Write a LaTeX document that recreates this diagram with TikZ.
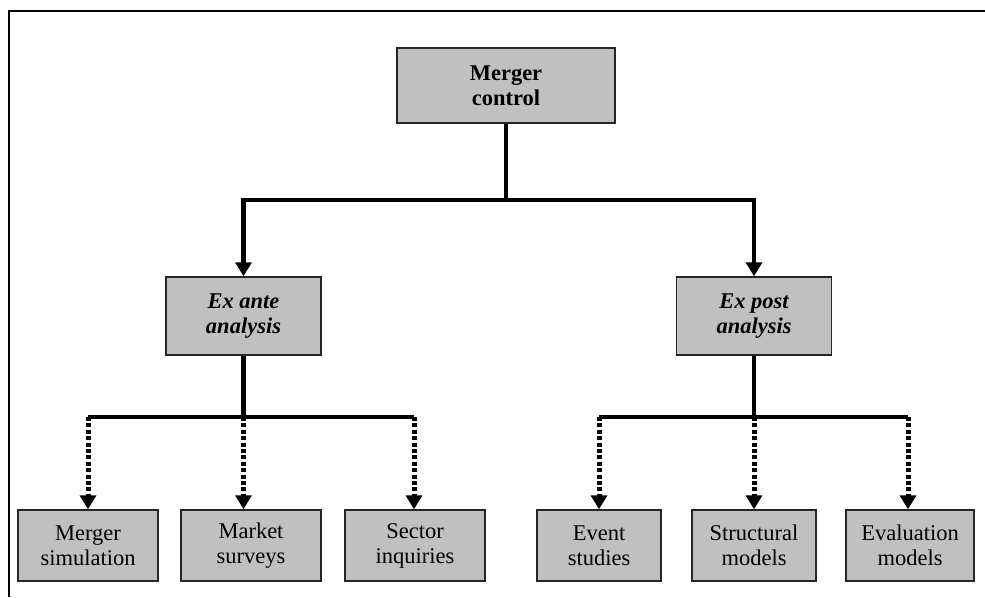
\documentclass[tikz,border=0pt]{standalone}
\usepackage{fontspec}
\setmainfont{Liberation Serif}
\usetikzlibrary{arrows.meta}
\definecolor{boxgray}{HTML}{C0C0C0}
\begin{document}
\begin{tikzpicture}[x=1pt,y=-1pt,
  box/.style={draw=black!85,line width=1.5pt,fill=boxgray,inner sep=0pt,align=center,
    font=\fontsize{22.5}{25}\selectfont},
  topbox/.style={box,font=\fontsize{22.5}{25}\selectfont\bfseries},
  midbox/.style={box,font=\fontsize{22.5}{25}\selectfont\bfseries\itshape,minimum width=155pt,minimum height=78pt},
  leafbox/.style={box,minimum height=71pt},
  conn/.style={line width=4.5pt},
  tip/.style={-{Triangle[width=16pt,length=14pt]}},
  dots/.style={line width=5pt,dash pattern=on 4pt off 2.4pt},
  frameline/.style={line width=2pt}]
\useasboundingbox (0,0) rectangle (985,597);
% frame
\coordinate (fbl) at (9,597);
\coordinate (ftl) at (9,11);
\coordinate (ftr) at (985,11);
\draw[frameline] (fbl) -- (ftl) -- (ftr);
% nodes
\node[topbox,minimum width=218pt,minimum height=75pt] (mc) at (506,85.5) {Merger\\control};
\node[midbox] (ea) at (243.5,316) {Ex ante\\analysis};
\node[midbox] (ep) at (754,316) {Ex post\\analysis};
\node[leafbox,minimum width=140pt] (ms) at (88,545.5) {Merger\\simulation};
\node[leafbox,minimum width=140pt] (mk) at (251,545.5) {Market\\surveys};
\node[leafbox,minimum width=140pt] (si) at (415,545.5) {Sector\\inquiries};
\node[leafbox,minimum width=124pt] (es) at (599,545.5) {Event\\studies};
\node[leafbox,minimum width=124pt] (sm) at (754,545.5) {Structural\\models};
\node[leafbox,minimum width=128pt] (em) at (910,545.5) {Evaluation\\models};
% top level connectors
\coordinate (j1) at (mc.south |- 0,200);
\draw[conn] (mc.south) -- (j1);
\draw[conn,tip] (j1) -| (ea.north);
\draw[conn,tip] (j1) -| (ep.north);
% ex ante branch
\coordinate (j2) at (ea.south |- 0,417);
\coordinate (j2l) at (88,417);
\coordinate (j2r) at (414,417);
\draw[conn] (ea.south) -- (j2);
\draw[conn] (j2l) -- (j2r);
\draw[dots,tip] (j2l) -- (j2l |- ms.north);
\draw[dots,tip] (j2) -- (j2 |- mk.north);
\draw[dots,tip] (j2r) -- (j2r |- si.north);
% ex post branch
\coordinate (j3) at (ep.south |- 0,417);
\coordinate (j3l) at (599,417);
\coordinate (j3r) at (908,417);
\draw[conn] (ep.south) -- (j3);
\draw[conn] (j3l) -- (j3r);
\draw[dots,tip] (j3l) -- (j3l |- es.north);
\draw[dots,tip] (j3) -- (j3 |- sm.north);
\draw[dots,tip] (j3r) -- (j3r |- em.north);
\end{tikzpicture}
\end{document}
